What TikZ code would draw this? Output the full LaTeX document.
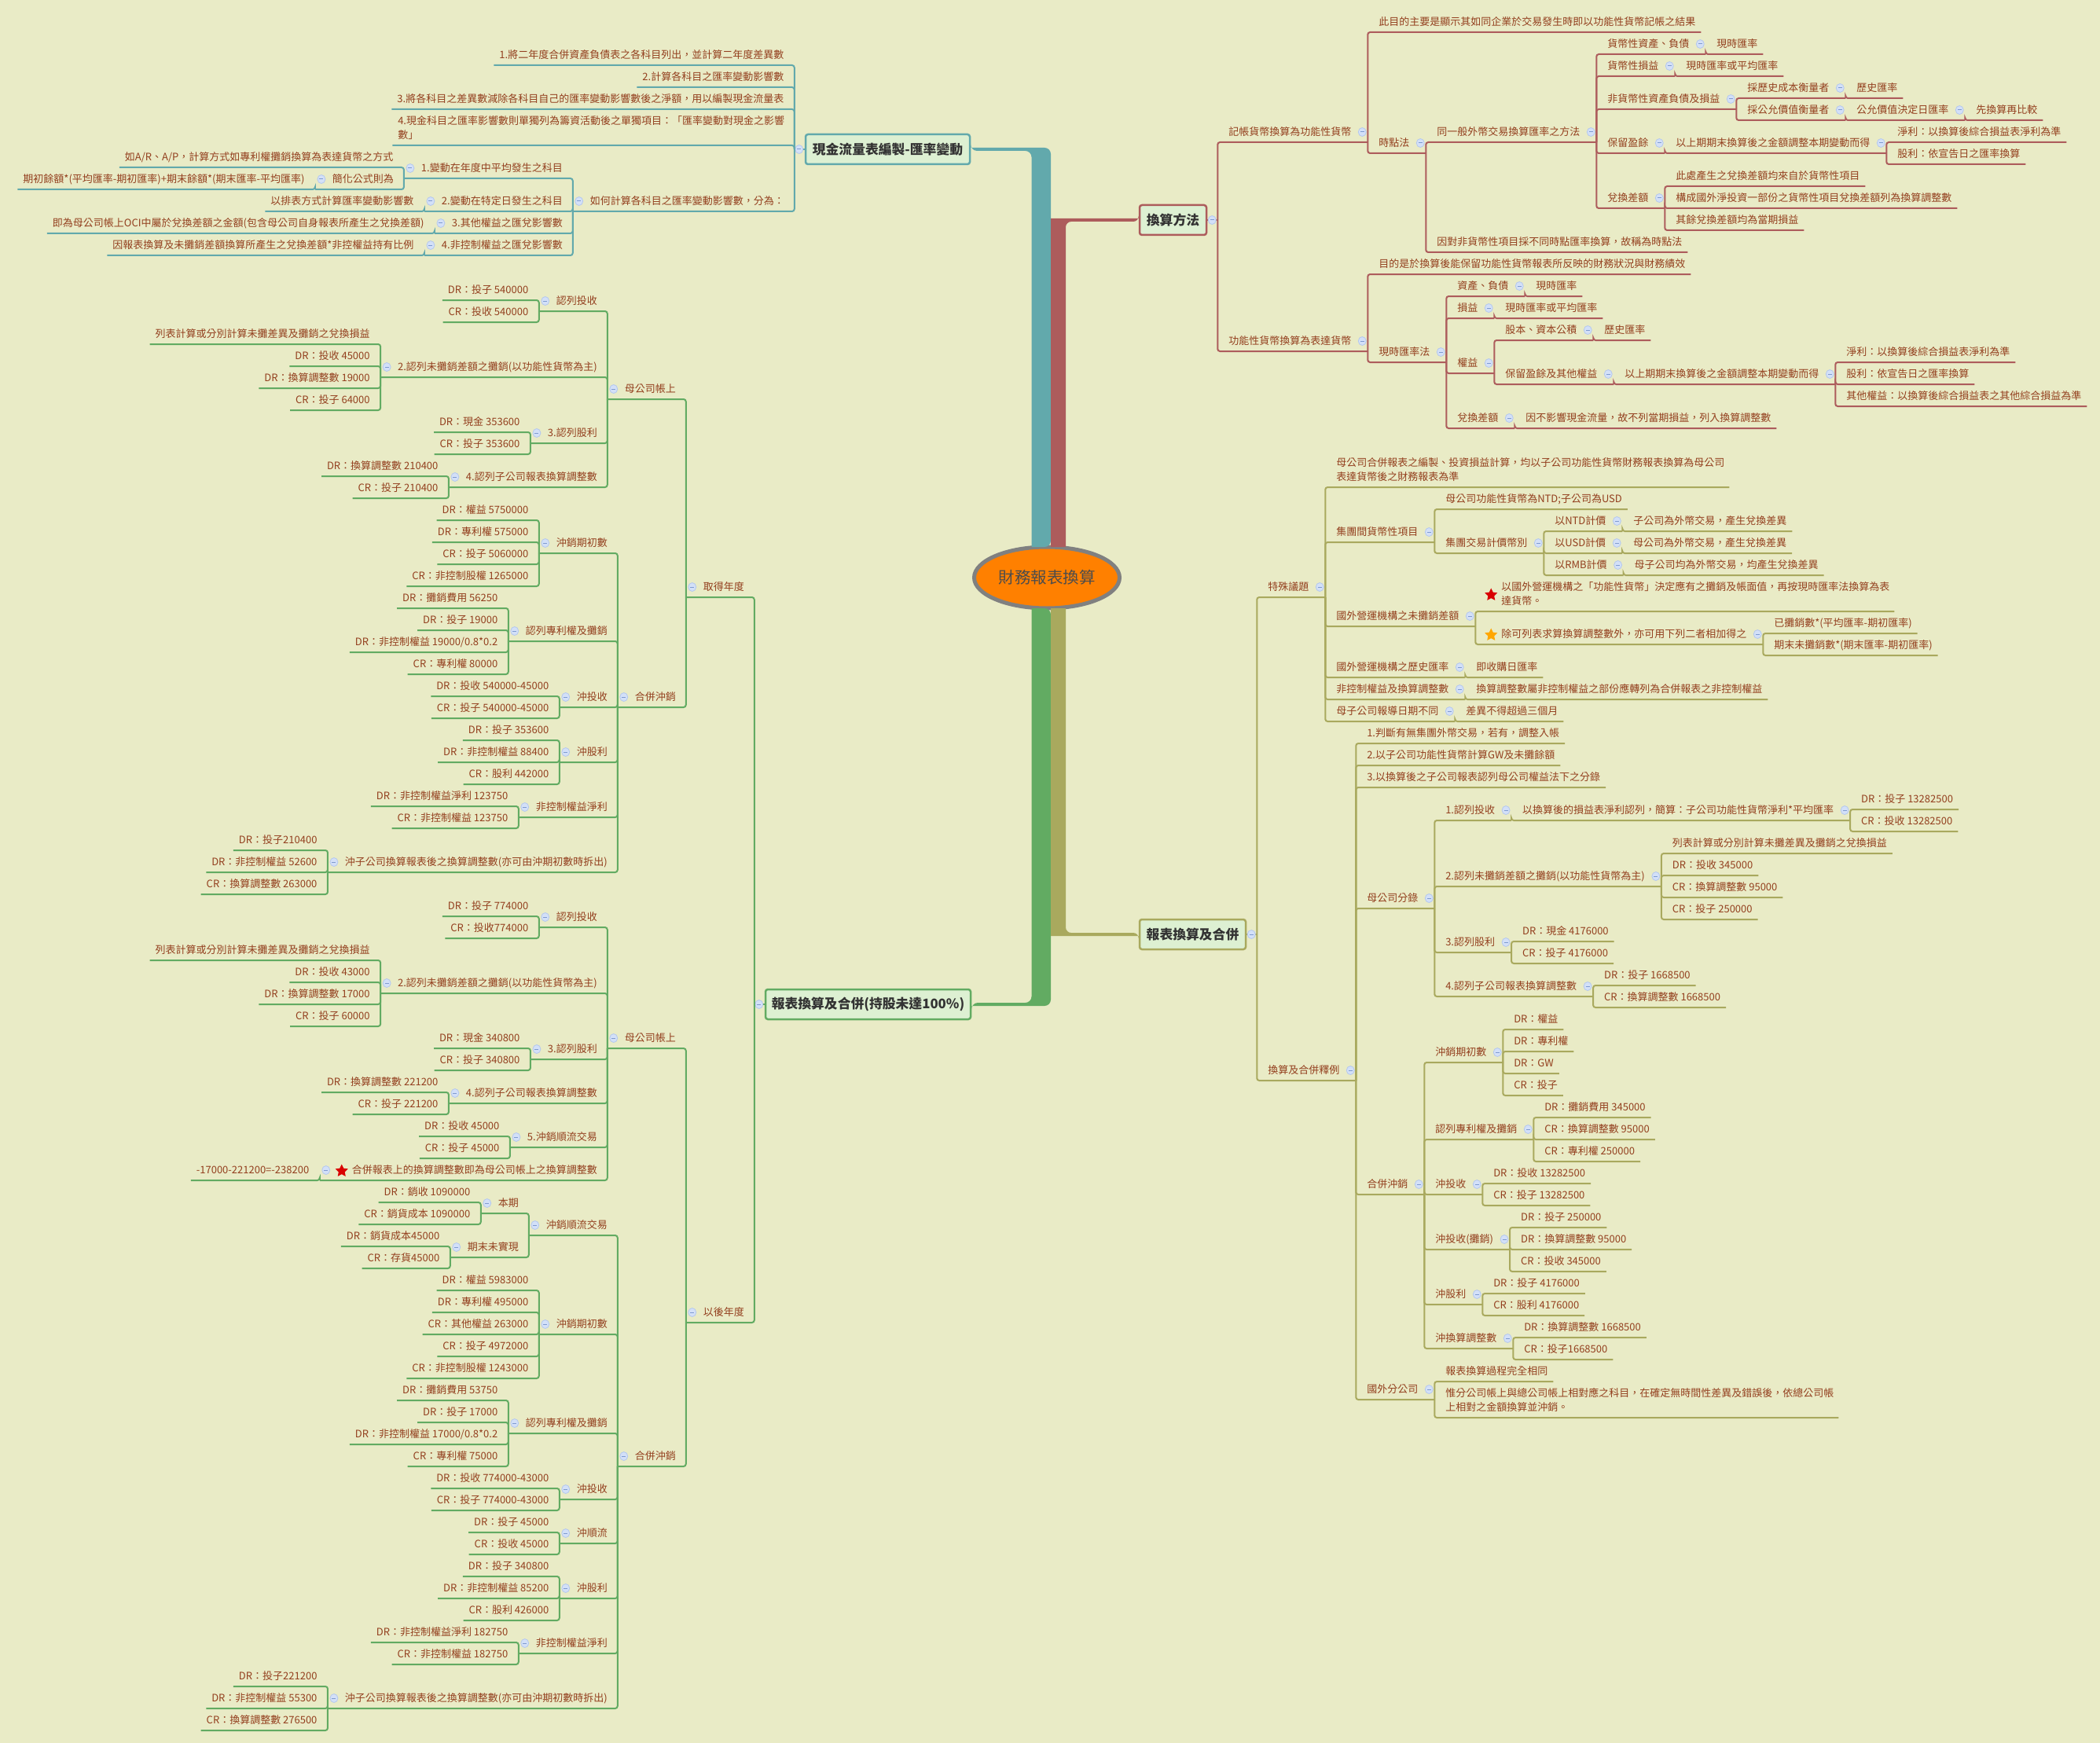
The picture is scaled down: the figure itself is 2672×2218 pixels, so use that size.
\documentclass[tikz,border=0pt]{standalone}
\usepackage{fontspec}
\setmainfont{Noto Sans CJK TC}
\usetikzlibrary{positioning, shapes.geometric}
\definecolor{bgc}{HTML}{E9EBC6}
\definecolor{textc}{HTML}{933F1E}
\definecolor{cteal}{HTML}{62A9AC}
\definecolor{cred}{HTML}{AD5C5C}
\definecolor{colive}{HTML}{A9A95E}
\definecolor{cgreen}{HTML}{62AB62}
\definecolor{topicfill}{HTML}{DDF0D2}
\definecolor{mkfill}{HTML}{D3E0F8}
\definecolor{mkdraw}{HTML}{B4C8EE}
\definecolor{mkdash}{HTML}{7F9BD0}
\newcommand{\nodefont}{\fontsize{13pt}{18pt}\selectfont}
\newcommand{\dashmk}{\rule{5pt}{1pt}}
\tikzset{
  nodebase/.style={font=\nodefont, text=textc, inner sep=0pt, outer sep=0pt, text height=12pt, text depth=8.5pt},
  minusmk/.style={ellipse, anchor=center, draw=mkdraw, fill=mkfill, line width=.8pt, minimum width=10pt, minimum height=11pt,
    inner sep=0pt, text=mkdash, text height=, text depth=, execute at begin node=, execute at end node=},
  lfL/.style={nodebase, anchor=south east, execute at begin node=\hspace*{7pt}, execute at end node=\hspace*{13.5pt}},
  prL/.style={nodebase, anchor=south east, execute at begin node=\hspace*{22pt}, execute at end node=\hspace*{13pt},
    label={[minusmk,xshift=8pt,yshift=13pt]south west:\dashmk}},
  lfR/.style={nodebase, anchor=south west, execute at begin node=\hspace*{14pt}, execute at end node=\hspace*{7pt}},
  prR/.style={nodebase, anchor=south west, execute at begin node=\hspace*{14pt}, execute at end node=\hspace*{21pt},
    label={[minusmk,xshift=-7pt,yshift=13pt]south east:\dashmk}},
  toL/.style={rounded corners=3pt, to path={(\tikztotarget.south west) -- (\tikztostart.south west |- \tikztotarget.south west) -- (\tikztostart.south west)}},
  toR/.style={rounded corners=3pt, to path={(\tikztotarget.south east) -- (\tikztostart.south east |- \tikztotarget.south east) -- (\tikztostart.south east)}},
  brk/.style={inner sep=0pt, outer sep=0pt, minimum size=0pt},
  topic/.style={rectangle, rounded corners=3pt, fill=topicfill, line width=2.5pt, inner sep=0pt, text=black!80,
    font=\fontsize{16.8pt}{20pt}\selectfont\bfseries},
  starmk/.style={star, star points=5, star point ratio=2.05, minimum size=17pt, inner sep=0pt},
  lnT/.style={cteal, line width=2pt},
  lnR/.style={cred, line width=2pt},
  lnO/.style={colive, line width=2pt},
  lnG/.style={cgreen, line width=2pt}
}
\begin{document}
\begin{tikzpicture}[x=1pt, y=-1pt]
  \fill[bgc] (0,0) rectangle (2672,2218);
  \useasboundingbox (0,0) rectangle (2672,2218);

  \node[ellipse, draw=gray, line width=5pt, fill=orange!100!red, minimum width=185pt, minimum height=78pt, inner sep=0pt, outer sep=0pt,
    text=black!70, font=\fontsize{20.5pt}{24pt}\selectfont] (root) at (1332,735) {財務報表換算};
  \node[topic, draw=cteal, minimum width=209pt, minimum height=38pt] (cf) at (1129.5,190) {現金流量表編製-匯率變動};
  \node[topic, draw=cred, minimum width=85pt, minimum height=38pt] (fx) at (1492.5,280) {換算方法};
  \node[topic, draw=colive, minimum width=135pt, minimum height=38pt] (rp) at (1517.5,1189) {報表換算及合併};
  \node[topic, draw=cgreen, minimum width=261pt, minimum height=38pt] (ac) at (1104.5,1278) {報表換算及合併(持股未達100\%)};

  % trunks
  \fill[cteal] ([yshift=2pt]cf.east) [rounded corners=8pt] -- ([xshift=5pt,yshift=2pt]cf.east -| root) -- ([xshift=5pt]root.north) [sharp corners] -- ([xshift=-19.5pt]root.north) [rounded corners=8pt] -- ([xshift=-19.5pt,yshift=-2pt]cf.east -| root) -- ([yshift=-2pt]cf.east) [sharp corners] -- cycle;
  \fill[cgreen] ([yshift=-2pt]ac.east) [rounded corners=8pt] -- ([xshift=5pt,yshift=-2pt]ac.east -| root) -- ([xshift=5pt]root.south) [sharp corners] -- ([xshift=-19.5pt]root.south) [rounded corners=8pt] -- ([xshift=-19.5pt,yshift=2pt]ac.east -| root) -- ([yshift=2pt]ac.east) [sharp corners] -- cycle;
  \fill[cred] ([yshift=2pt]fx.west) -- ([xshift=5pt,yshift=2pt]fx.west -| root) -- ([xshift=5pt]root.north) -- ([xshift=24pt]root.north) [rounded corners=7pt] -- ([xshift=24pt,yshift=-2pt]fx.west -| root) -- ([yshift=-2pt]fx.west) [sharp corners] -- cycle;
  \fill[colive] ([yshift=-2pt]rp.west) -- ([xshift=5pt,yshift=-2pt]rp.west -| root) -- ([xshift=5pt]root.south) -- ([xshift=24pt]root.south) [rounded corners=7pt] -- ([xshift=24pt,yshift=2pt]rp.west -| root) -- ([yshift=2pt]rp.west) [sharp corners] -- cycle;

  \node[brk] (cfb) at ([xshift=-13pt]cf.west) {};
  \node[brk] (fxb) at ([xshift=13pt]fx.east) {};
  \node[brk] (rpb) at ([xshift=13pt]rp.east) {};
  \node[brk] (acb) at ([xshift=-13pt]ac.west) {};
  \draw[lnT] (cfb) -- (cf);
  \draw[lnR] (fxb) -- (fx);
  \draw[lnO] (rpb) -- (rp);
  \draw[lnG] (acb) -- (ac);
  \node[minusmk] (cfm) at ([xshift=-7pt]cf.west) {\dashmk};
  \node[minusmk] (fxm) at ([xshift=6pt]fx.east) {\dashmk};
  \node[minusmk] (rpm) at ([xshift=6pt]rp.east) {\dashmk};
  \node[minusmk] (acm) at ([xshift=-7pt]ac.west) {\dashmk};

  % cash flow
  \node[lfL] (cf1) at (cfb.south west |- 0,83) {1.將二年度合併資產負債表之各科目列出，並計算二年度差異數};
  \node[lfL] (cf2) at (cfb.south west |- 0,111) {2.計算各科目之匯率變動影響數};
  \node[lfL] (cf3) at (cfb.south west |- 0,139) {3.將各科目之差異數減除各科目自己的匯率變動影響數後之淨額，用以編製現金流量表};
  \node[lfL, text height=30pt] (cf4) at (cfb.south west |- 0,185) {\parbox[b]{491pt}{\raggedright 4.現金科目之匯率影響數則單獨列為籌資活動後之單獨項目：「匯率變動對現金之影響\\數」}};
  \node[prL] (cf5) at (cfb.south west |- 0,269) {如何計算各科目之匯率變動影響數，分為：};
  \node[prL] (cf51) at (cf5.south west |- 0,227) {1.變動在年度中平均發生之科目};
  \node[lfL] (cf511) at (cf51.south west |- 0,213) {如A/R、A/P，計算方式如專利權攤銷換算為表達貨幣之方式};
  \node[prL] (cf512) at (cf51.south west |- 0,241) {簡化公式則為};
  \node[lfL] (cf5121) at (cf512.south west |- 0,241) {期初餘額*(平均匯率-期初匯率)+期末餘額*(期末匯率-平均匯率)};
  \node[prL] (cf52) at (cf5.south west |- 0,269) {2.變動在特定日發生之科目};
  \node[lfL] (cf521) at (cf52.south west |- 0,269) {以排表方式計算匯率變動影響數};
  \node[prL] (cf53) at (cf5.south west |- 0,297) {3.其他權益之匯兌影響數};
  \node[lfL] (cf531) at (cf53.south west |- 0,297) {即為母公司帳上OCI中屬於兌換差額之金額(包含母公司自身報表所產生之兌換差額)};
  \node[prL] (cf54) at (cf5.south west |- 0,325) {4.非控制權益之匯兌影響數};
  \node[lfL] (cf541) at (cf54.south west |- 0,325) {因報表換算及未攤銷差額換算所產生之兌換差額*非控權益持有比例};
  \draw[lnT, toL] (cfb) edge (cf1) edge (cf2) edge (cf3) edge (cf4) edge (cf5)
        (cf5) edge (cf51) edge (cf52) edge (cf53) edge (cf54)
        (cf51) edge (cf511) edge (cf512) (cf512) edge (cf5121)
        (cf52) edge (cf521) (cf53) edge (cf531) (cf54) edge (cf541);

  % acquisition year
  \node[prL] (a1) at (acb.south west |- 0,760) {取得年度};
  \node[prL] (a1p) at (a1.south west |- 0,508) {母公司帳上};
  \node[prL] (a1p1) at (a1p.south west |- 0,396) {認列投收};
  \node[lfL] (a1p11) at (a1p1.south west |- 0,382) {DR：投子 540000};
  \node[lfL] (a1p12) at (a1p1.south west |- 0,410) {CR：投收 540000};
  \node[prL] (a1p2) at (a1p.south west |- 0,480) {2.認列未攤銷差額之攤銷(以功能性貨幣為主)};
  \node[lfL] (a1p21) at (a1p2.south west |- 0,438) {列表計算或分別計算未攤差異及攤銷之兌換損益};
  \node[lfL] (a1p22) at (a1p2.south west |- 0,466) {DR：投收 45000};
  \node[lfL] (a1p23) at (a1p2.south west |- 0,494) {DR：換算調整數 19000};
  \node[lfL] (a1p24) at (a1p2.south west |- 0,522) {CR：投子 64000};
  \node[prL] (a1p3) at (a1p.south west |- 0,564) {3.認列股利};
  \node[lfL] (a1p31) at (a1p3.south west |- 0,550) {DR：現金 353600};
  \node[lfL] (a1p32) at (a1p3.south west |- 0,578) {CR：投子 353600};
  \node[prL] (a1p4) at (a1p.south west |- 0,620) {4.認列子公司報表換算調整數};
  \node[lfL] (a1p41) at (a1p4.south west |- 0,606) {DR：換算調整數 210400};
  \node[lfL] (a1p42) at (a1p4.south west |- 0,634) {CR：投子 210400};
  \node[prL] (a1c) at (a1.south west |- 0,900) {合併沖銷};
  \node[prL] (a1c1) at (a1c.south west |- 0,704) {沖銷期初數};
  \node[lfL] (a1c11) at (a1c1.south west |- 0,662) {DR：權益 5750000};
  \node[lfL] (a1c12) at (a1c1.south west |- 0,690) {DR：專利權 575000};
  \node[lfL] (a1c13) at (a1c1.south west |- 0,718) {CR：投子 5060000};
  \node[lfL] (a1c14) at (a1c1.south west |- 0,746) {CR：非控制股權 1265000};
  \node[prL] (a1c2) at (a1c.south west |- 0,816) {認列專利權及攤銷};
  \node[lfL] (a1c21) at (a1c2.south west |- 0,774) {DR：攤銷費用 56250};
  \node[lfL] (a1c22) at (a1c2.south west |- 0,802) {DR：投子 19000};
  \node[lfL] (a1c23) at (a1c2.south west |- 0,830) {DR：非控制權益 19000/0.8*0.2};
  \node[lfL] (a1c24) at (a1c2.south west |- 0,858) {CR：專利權 80000};
  \node[prL] (a1c3) at (a1c.south west |- 0,900) {沖投收};
  \node[lfL] (a1c31) at (a1c3.south west |- 0,886) {DR：投收 540000-45000};
  \node[lfL] (a1c32) at (a1c3.south west |- 0,914) {CR：投子 540000-45000};
  \node[prL] (a1c4) at (a1c.south west |- 0,970) {沖股利};
  \node[lfL] (a1c41) at (a1c4.south west |- 0,942) {DR：投子 353600};
  \node[lfL] (a1c42) at (a1c4.south west |- 0,970) {DR：非控制權益 88400};
  \node[lfL] (a1c43) at (a1c4.south west |- 0,998) {CR：股利 442000};
  \node[prL] (a1c5) at (a1c.south west |- 0,1040) {非控制權益淨利};
  \node[lfL] (a1c51) at (a1c5.south west |- 0,1026) {DR：非控制權益淨利 123750};
  \node[lfL] (a1c52) at (a1c5.south west |- 0,1054) {CR：非控制權益 123750};
  \node[prL] (a1c6) at (a1c.south west |- 0,1110) {沖子公司換算報表後之換算調整數(亦可由沖期初數時拆出)};
  \node[lfL] (a1c61) at (a1c6.south west |- 0,1082) {DR：投子210400};
  \node[lfL] (a1c62) at (a1c6.south west |- 0,1110) {DR：非控制權益 52600};
  \node[lfL] (a1c63) at (a1c6.south west |- 0,1138) {CR：換算調整數 263000};
  \draw[lnG, toL] (acb) edge (a1) (a1) edge (a1p) edge (a1c)
        (a1p) edge (a1p1) edge (a1p2) edge (a1p3) edge (a1p4)
        (a1p1) edge (a1p11) edge (a1p12)
        (a1p2) edge (a1p21) edge (a1p22) edge (a1p23) edge (a1p24)
        (a1p3) edge (a1p31) edge (a1p32)
        (a1p4) edge (a1p41) edge (a1p42)
        (a1c) edge (a1c1) edge (a1c2) edge (a1c3) edge (a1c4) edge (a1c5) edge (a1c6)
        (a1c1) edge (a1c11) edge (a1c12) edge (a1c13) edge (a1c14)
        (a1c2) edge (a1c21) edge (a1c22) edge (a1c23) edge (a1c24)
        (a1c3) edge (a1c31) edge (a1c32)
        (a1c4) edge (a1c41) edge (a1c42) edge (a1c43)
        (a1c5) edge (a1c51) edge (a1c52)
        (a1c6) edge (a1c61) edge (a1c62) edge (a1c63);

  % later years
  \node[prL] (a2) at (acb.south west |- 0,1683) {以後年度};
  \node[prL] (a2p) at (a2.south west |- 0,1334) {母公司帳上};
  \node[prL] (a2p1) at (a2p.south west |- 0,1180) {認列投收};
  \node[lfL] (a2p11) at (a2p1.south west |- 0,1166) {DR：投子 774000};
  \node[lfL] (a2p12) at (a2p1.south west |- 0,1194) {CR：投收774000};
  \node[prL] (a2p2) at (a2p.south west |- 0,1264) {2.認列未攤銷差額之攤銷(以功能性貨幣為主)};
  \node[lfL] (a2p21) at (a2p2.south west |- 0,1222) {列表計算或分別計算未攤差異及攤銷之兌換損益};
  \node[lfL] (a2p22) at (a2p2.south west |- 0,1250) {DR：投收 43000};
  \node[lfL] (a2p23) at (a2p2.south west |- 0,1278) {DR：換算調整數 17000};
  \node[lfL] (a2p24) at (a2p2.south west |- 0,1306) {CR：投子 60000};
  \node[prL] (a2p3) at (a2p.south west |- 0,1348) {3.認列股利};
  \node[lfL] (a2p31) at (a2p3.south west |- 0,1334) {DR：現金 340800};
  \node[lfL] (a2p32) at (a2p3.south west |- 0,1362) {CR：投子 340800};
  \node[prL] (a2p4) at (a2p.south west |- 0,1404) {4.認列子公司報表換算調整數};
  \node[lfL] (a2p41) at (a2p4.south west |- 0,1390) {DR：換算調整數 221200};
  \node[lfL] (a2p42) at (a2p4.south west |- 0,1418) {CR：投子 221200};
  \node[prL] (a2p5) at (a2p.south west |- 0,1460) {5.沖銷順流交易};
  \node[lfL] (a2p51) at (a2p5.south west |- 0,1446) {DR：投收 45000};
  \node[lfL] (a2p52) at (a2p5.south west |- 0,1474) {CR：投子 45000};
  \node[prL] (a2p6) at (a2p.south west |- 0,1502) {\hspace*{19pt}合併報表上的換算調整數即為母公司帳上之換算調整數};
  \node[starmk, fill=red!85!black] (a2ps) at ([xshift=28pt,yshift=12pt]a2p6.south west) {};
  \node[lfL] (a2p61) at (a2p6.south west |- 0,1502) {-17000-221200=-238200};
  \node[prL] (a2c) at (a2.south west |- 0,1866) {合併沖銷};
  \node[prL] (a2c1) at (a2c.south west |- 0,1572) {沖銷順流交易};
  \node[prL] (a2c11) at (a2c1.south west |- 0,1544) {本期};
  \node[lfL] (a2c111) at (a2c11.south west |- 0,1530) {DR：銷收 1090000};
  \node[lfL] (a2c112) at (a2c11.south west |- 0,1558) {CR：銷貨成本 1090000};
  \node[prL] (a2c12) at (a2c1.south west |- 0,1600) {期末未實現};
  \node[lfL] (a2c121) at (a2c12.south west |- 0,1586) {DR：銷貨成本45000};
  \node[lfL] (a2c122) at (a2c12.south west |- 0,1614) {CR：存貨45000};
  \node[prL] (a2c2) at (a2c.south west |- 0,1698) {沖銷期初數};
  \node[lfL] (a2c21) at (a2c2.south west |- 0,1642) {DR：權益 5983000};
  \node[lfL] (a2c22) at (a2c2.south west |- 0,1670) {DR：專利權 495000};
  \node[lfL] (a2c23) at (a2c2.south west |- 0,1698) {CR：其他權益 263000};
  \node[lfL] (a2c24) at (a2c2.south west |- 0,1726) {CR：投子 4972000};
  \node[lfL] (a2c25) at (a2c2.south west |- 0,1754) {CR：非控制股權 1243000};
  \node[prL] (a2c3) at (a2c.south west |- 0,1824) {認列專利權及攤銷};
  \node[lfL] (a2c31) at (a2c3.south west |- 0,1782) {DR：攤銷費用 53750};
  \node[lfL] (a2c32) at (a2c3.south west |- 0,1810) {DR：投子 17000};
  \node[lfL] (a2c33) at (a2c3.south west |- 0,1838) {DR：非控制權益 17000/0.8*0.2};
  \node[lfL] (a2c34) at (a2c3.south west |- 0,1866) {CR：專利權 75000};
  \node[prL] (a2c4) at (a2c.south west |- 0,1908) {沖投收};
  \node[lfL] (a2c41) at (a2c4.south west |- 0,1894) {DR：投收 774000-43000};
  \node[lfL] (a2c42) at (a2c4.south west |- 0,1922) {CR：投子 774000-43000};
  \node[prL] (a2c5) at (a2c.south west |- 0,1964) {沖順流};
  \node[lfL] (a2c51) at (a2c5.south west |- 0,1950) {DR：投子 45000};
  \node[lfL] (a2c52) at (a2c5.south west |- 0,1978) {CR：投收 45000};
  \node[prL] (a2c6) at (a2c.south west |- 0,2034) {沖股利};
  \node[lfL] (a2c61) at (a2c6.south west |- 0,2006) {DR：投子 340800};
  \node[lfL] (a2c62) at (a2c6.south west |- 0,2034) {DR：非控制權益 85200};
  \node[lfL] (a2c63) at (a2c6.south west |- 0,2062) {CR：股利 426000};
  \node[prL] (a2c7) at (a2c.south west |- 0,2104) {非控制權益淨利};
  \node[lfL] (a2c71) at (a2c7.south west |- 0,2090) {DR：非控制權益淨利 182750};
  \node[lfL] (a2c72) at (a2c7.south west |- 0,2118) {CR：非控制權益 182750};
  \node[prL] (a2c8) at (a2c.south west |- 0,2174) {沖子公司換算報表後之換算調整數(亦可由沖期初數時拆出)};
  \node[lfL] (a2c81) at (a2c8.south west |- 0,2146) {DR：投子221200};
  \node[lfL] (a2c82) at (a2c8.south west |- 0,2174) {DR：非控制權益 55300};
  \node[lfL] (a2c83) at (a2c8.south west |- 0,2202) {CR：換算調整數 276500};
  \draw[lnG, toL] (acb) edge (a2) (a2) edge (a2p) edge (a2c)
        (a2p) edge (a2p1) edge (a2p2) edge (a2p3) edge (a2p4) edge (a2p5) edge (a2p6)
        (a2p1) edge (a2p11) edge (a2p12)
        (a2p2) edge (a2p21) edge (a2p22) edge (a2p23) edge (a2p24)
        (a2p3) edge (a2p31) edge (a2p32)
        (a2p4) edge (a2p41) edge (a2p42)
        (a2p5) edge (a2p51) edge (a2p52)
        (a2p6) edge (a2p61)
        (a2c) edge (a2c1) edge (a2c2) edge (a2c3) edge (a2c4) edge (a2c5) edge (a2c6) edge (a2c7) edge (a2c8)
        (a2c1) edge (a2c11) edge (a2c12)
        (a2c11) edge (a2c111) edge (a2c112)
        (a2c12) edge (a2c121) edge (a2c122)
        (a2c2) edge (a2c21) edge (a2c22) edge (a2c23) edge (a2c24) edge (a2c25)
        (a2c3) edge (a2c31) edge (a2c32) edge (a2c33) edge (a2c34)
        (a2c4) edge (a2c41) edge (a2c42)
        (a2c5) edge (a2c51) edge (a2c52)
        (a2c6) edge (a2c61) edge (a2c62) edge (a2c63)
        (a2c7) edge (a2c71) edge (a2c72)
        (a2c8) edge (a2c81) edge (a2c82) edge (a2c83);

  % translation methods
  \node[prR] (fa) at (fxb.south east |- 0,181) {記帳貨幣換算為功能性貨幣};
  \node[lfR] (fa1) at (fa.south east |- 0,41) {此目的主要是顯示其如同企業於交易發生時即以功能性貨幣記帳之結果};
  \node[prR] (fa2) at (fa.south east |- 0,195) {時點法};
  \node[prR] (fa21) at (fa2.south east |- 0,181) {同一般外幣交易換算匯率之方法};
  \node[prR] (fa211) at (fa21.south east |- 0,69) {貨幣性資產、負債};
  \node[lfR] (fa2111) at (fa211.south east |- 0,69) {現時匯率};
  \node[prR] (fa212) at (fa21.south east |- 0,97) {貨幣性損益};
  \node[lfR] (fa2121) at (fa212.south east |- 0,97) {現時匯率或平均匯率};
  \node[prR] (fa213) at (fa21.south east |- 0,139) {非貨幣性資產負債及損益};
  \node[prR] (fa2131) at (fa213.south east |- 0,125) {採歷史成本衡量者};
  \node[lfR] (fa21311) at (fa2131.south east |- 0,125) {歷史匯率};
  \node[prR] (fa2132) at (fa213.south east |- 0,153) {採公允價值衡量者};
  \node[prR] (fa21321) at (fa2132.south east |- 0,153) {公允價值決定日匯率};
  \node[lfR] (fa213211) at (fa21321.south east |- 0,153) {先換算再比較};
  \node[prR] (fa214) at (fa21.south east |- 0,195) {保留盈餘};
  \node[prR] (fa2141) at (fa214.south east |- 0,195) {以上期期末換算後之金額調整本期變動而得};
  \node[lfR] (fa21411) at (fa2141.south east |- 0,181) {淨利：以換算後綜合損益表淨利為準};
  \node[lfR] (fa21412) at (fa2141.south east |- 0,209) {股利：依宣告日之匯率換算};
  \node[prR] (fa215) at (fa21.south east |- 0,265) {兌換差額};
  \node[lfR] (fa2151) at (fa215.south east |- 0,237) {此處產生之兌換差額均來自於貨幣性項目};
  \node[lfR] (fa2152) at (fa215.south east |- 0,265) {構成國外淨投資一部份之貨幣性項目兌換差額列為換算調整數};
  \node[lfR] (fa2153) at (fa215.south east |- 0,293) {其餘兌換差額均為當期損益};
  \node[lfR] (fa22) at (fa2.south east |- 0,321) {因對非貨幣性項目採不同時點匯率換算，故稱為時點法};
  \node[prR] (fb) at (fxb.south east |- 0,447) {功能性貨幣換算為表達貨幣};
  \node[lfR] (fb1) at (fb.south east |- 0,349) {目的是於換算後能保留功能性貨幣報表所反映的財務狀況與財務績效};
  \node[prR] (fb2) at (fb.south east |- 0,461) {現時匯率法};
  \node[prR] (fb21) at (fb2.south east |- 0,377) {資產、負債};
  \node[lfR] (fb211) at (fb21.south east |- 0,377) {現時匯率};
  \node[prR] (fb22) at (fb2.south east |- 0,405) {損益};
  \node[lfR] (fb221) at (fb22.south east |- 0,405) {現時匯率或平均匯率};
  \node[prR] (fb23) at (fb2.south east |- 0,475) {權益};
  \node[prR] (fb231) at (fb23.south east |- 0,433) {股本、資本公積};
  \node[lfR] (fb2311) at (fb231.south east |- 0,433) {歷史匯率};
  \node[prR] (fb232) at (fb23.south east |- 0,489) {保留盈餘及其他權益};
  \node[prR] (fb2321) at (fb232.south east |- 0,489) {以上期期末換算後之金額調整本期變動而得};
  \node[lfR] (fb23211) at (fb2321.south east |- 0,461) {淨利：以換算後綜合損益表淨利為準};
  \node[lfR] (fb23212) at (fb2321.south east |- 0,489) {股利：依宣告日之匯率換算};
  \node[lfR] (fb23213) at (fb2321.south east |- 0,517) {其他權益：以換算後綜合損益表之其他綜合損益為準};
  \node[prR] (fb24) at (fb2.south east |- 0,545) {兌換差額};
  \node[lfR] (fb241) at (fb24.south east |- 0,545) {因不影響現金流量，故不列當期損益，列入換算調整數};
  \draw[lnR, toR] (fxb) edge (fa) edge (fb)
        (fa) edge (fa1) edge (fa2) (fa2) edge (fa21) edge (fa22)
        (fa21) edge (fa211) edge (fa212) edge (fa213) edge (fa214) edge (fa215)
        (fa211) edge (fa2111) (fa212) edge (fa2121)
        (fa213) edge (fa2131) edge (fa2132) (fa2131) edge (fa21311)
        (fa2132) edge (fa21321) (fa21321) edge (fa213211)
        (fa214) edge (fa2141) (fa2141) edge (fa21411) edge (fa21412)
        (fa215) edge (fa2151) edge (fa2152) edge (fa2153)
        (fb) edge (fb1) edge (fb2) (fb2) edge (fb21) edge (fb22) edge (fb23) edge (fb24)
        (fb21) edge (fb211) (fb22) edge (fb221)
        (fb23) edge (fb231) edge (fb232) (fb231) edge (fb2311)
        (fb232) edge (fb2321) (fb2321) edge (fb23211) edge (fb23212) edge (fb23213)
        (fb24) edge (fb241);

  % special issues
  \node[prR] (rs) at (rpb.south east |- 0,760) {特殊議題};
  \node[lfR, text height=30pt] (rs1) at (rs.south east |- 0,620) {\parbox[b]{493pt}{\raggedright 母公司合併報表之編製、投資損益計算，均以子公司功能性貨幣財務報表換算為母公司\\表達貨幣後之財務報表為準}};
  \node[prR] (rs2) at (rs.south east |- 0,690) {集團間貨幣性項目};
  \node[lfR] (rs21) at (rs2.south east |- 0,648) {母公司功能性貨幣為NTD;子公司為USD};
  \node[prR] (rs22) at (rs2.south east |- 0,704) {集團交易計價幣別};
  \node[prR] (rs221) at (rs22.south east |- 0,676) {以NTD計價};
  \node[lfR] (rs2211) at (rs221.south east |- 0,676) {子公司為外幣交易，產生兌換差異};
  \node[prR] (rs222) at (rs22.south east |- 0,704) {以USD計價};
  \node[lfR] (rs2221) at (rs222.south east |- 0,704) {母公司為外幣交易，產生兌換差異};
  \node[prR] (rs223) at (rs22.south east |- 0,732) {以RMB計價};
  \node[lfR] (rs2231) at (rs223.south east |- 0,732) {母子公司均為外幣交易，均產生兌換差異};
  \node[prR] (rs3) at (rs.south east |- 0,797) {國外營運機構之未攤銷差額};
  \node[lfR, text height=30pt] (rs31) at (rs3.south east |- 0,778) {\hspace*{19pt}\parbox[b]{493pt}{\raggedright 以國外營運機構之「功能性貨幣」決定應有之攤銷及帳面值，再按現時匯率法換算為表\\達貨幣。}};
  \node[starmk, fill=red!85!black] (rs31s) at ([xshift=20pt,yshift=21pt]rs31.south west) {};
  \node[prR] (rs32) at (rs3.south east |- 0,820) {\hspace*{19pt}除可列表求算換算調整數外，亦可用下列二者相加得之};
  \node[starmk, fill=orange!70!yellow] (rs32s) at ([xshift=20pt,yshift=12pt]rs32.south west) {};
  \node[lfR] (rs321) at (rs32.south east |- 0,806) {已攤銷數*(平均匯率-期初匯率)};
  \node[lfR] (rs322) at (rs32.south east |- 0,834) {期末未攤銷數*(期末匯率-期初匯率)};
  \node[prR] (rs4) at (rs.south east |- 0,862) {國外營運機構之歷史匯率};
  \node[lfR] (rs41) at (rs4.south east |- 0,862) {即收購日匯率};
  \node[prR] (rs5) at (rs.south east |- 0,890) {非控制權益及換算調整數};
  \node[lfR] (rs51) at (rs5.south east |- 0,890) {換算調整數屬非控制權益之部份應轉列為合併報表之非控制權益};
  \node[prR] (rs6) at (rs.south east |- 0,918) {母子公司報導日期不同};
  \node[lfR] (rs61) at (rs6.south east |- 0,918) {差異不得超過三個月};
  \draw[lnO, toR] (rpb) edge (rs)
        (rs) edge (rs1) edge (rs2) edge (rs3) edge (rs4) edge (rs5) edge (rs6)
        (rs2) edge (rs21) edge (rs22) (rs22) edge (rs221) edge (rs222) edge (rs223)
        (rs221) edge (rs2211) (rs222) edge (rs2221) (rs223) edge (rs2231)
        (rs3) edge (rs31) edge (rs32) (rs32) edge (rs321) edge (rs322)
        (rs4) edge (rs41) (rs5) edge (rs51) (rs6) edge (rs61);

  % worked example
  \node[prR] (re) at (rpb.south east |- 0,1375) {換算及合併釋例};
  \node[lfR] (re1) at (re.south east |- 0,946) {1.判斷有無集團外幣交易，若有，調整入帳};
  \node[lfR] (re2) at (re.south east |- 0,974) {2.以子公司功能性貨幣計算GW及未攤餘額};
  \node[lfR] (re3) at (re.south east |- 0,1002) {3.以換算後之子公司報表認列母公司權益法下之分錄};
  \node[prR] (re4) at (re.south east |- 0,1156) {母公司分錄};
  \node[prR] (re41) at (re4.south east |- 0,1044) {1.認列投收};
  \node[prR] (re411) at (re41.south east |- 0,1044) {以換算後的損益表淨利認列，簡算：子公司功能性貨幣淨利*平均匯率};
  \node[lfR] (re4111) at (re411.south east |- 0,1030) {DR：投子 13282500};
  \node[lfR] (re4112) at (re411.south east |- 0,1058) {CR：投收 13282500};
  \node[prR] (re42) at (re4.south east |- 0,1128) {2.認列未攤銷差額之攤銷(以功能性貨幣為主)};
  \node[lfR] (re421) at (re42.south east |- 0,1086) {列表計算或分別計算未攤差異及攤銷之兌換損益};
  \node[lfR] (re422) at (re42.south east |- 0,1114) {DR：投收 345000};
  \node[lfR] (re423) at (re42.south east |- 0,1142) {CR：換算調整數 95000};
  \node[lfR] (re424) at (re42.south east |- 0,1170) {CR：投子 250000};
  \node[prR] (re43) at (re4.south east |- 0,1212) {3.認列股利};
  \node[lfR] (re431) at (re43.south east |- 0,1198) {DR：現金 4176000};
  \node[lfR] (re432) at (re43.south east |- 0,1226) {CR：投子 4176000};
  \node[prR] (re44) at (re4.south east |- 0,1268) {4.認列子公司報表換算調整數};
  \node[lfR] (re441) at (re44.south east |- 0,1254) {DR：投子 1668500};
  \node[lfR] (re442) at (re44.south east |- 0,1282) {CR：換算調整數 1668500};
  \node[prR] (re5) at (re.south east |- 0,1520) {合併沖銷};
  \node[prR] (re51) at (re5.south east |- 0,1352) {沖銷期初數};
  \node[lfR] (re511) at (re51.south east |- 0,1310) {DR：權益};
  \node[lfR] (re512) at (re51.south east |- 0,1338) {DR：專利權};
  \node[lfR] (re513) at (re51.south east |- 0,1366) {DR：GW};
  \node[lfR] (re514) at (re51.south east |- 0,1394) {CR：投子};
  \node[prR] (re52) at (re5.south east |- 0,1450) {認列專利權及攤銷};
  \node[lfR] (re521) at (re52.south east |- 0,1422) {DR：攤銷費用 345000};
  \node[lfR] (re522) at (re52.south east |- 0,1450) {CR：換算調整數 95000};
  \node[lfR] (re523) at (re52.south east |- 0,1478) {CR：專利權 250000};
  \node[prR] (re53) at (re5.south east |- 0,1520) {沖投收};
  \node[lfR] (re531) at (re53.south east |- 0,1506) {DR：投收 13282500};
  \node[lfR] (re532) at (re53.south east |- 0,1534) {CR：投子 13282500};
  \node[prR] (re54) at (re5.south east |- 0,1590) {沖投收(攤銷)};
  \node[lfR] (re541) at (re54.south east |- 0,1562) {DR：投子 250000};
  \node[lfR] (re542) at (re54.south east |- 0,1590) {DR：換算調整數 95000};
  \node[lfR] (re543) at (re54.south east |- 0,1618) {CR：投收 345000};
  \node[prR] (re55) at (re5.south east |- 0,1660) {沖股利};
  \node[lfR] (re551) at (re55.south east |- 0,1646) {DR：投子 4176000};
  \node[lfR] (re552) at (re55.south east |- 0,1674) {CR：股利 4176000};
  \node[prR] (re56) at (re5.south east |- 0,1716) {沖換算調整數};
  \node[lfR] (re561) at (re56.south east |- 0,1702) {DR：換算調整數 1668500};
  \node[lfR] (re562) at (re56.south east |- 0,1730) {CR：投子1668500};
  \node[prR] (re6) at (re.south east |- 0,1781) {國外分公司};
  \node[lfR] (re61) at (re6.south east |- 0,1758) {報表換算過程完全相同};
  \node[lfR, text height=30pt] (re62) at (re6.south east |- 0,1804) {\parbox[b]{493pt}{\raggedright 惟分公司帳上與總公司帳上相對應之科目，在確定無時間性差異及錯誤後，依總公司帳\\上相對之金額換算並沖銷。}};
  \draw[lnO, toR] (rpb) edge (re)
        (re) edge (re1) edge (re2) edge (re3) edge (re4) edge (re5) edge (re6)
        (re4) edge (re41) edge (re42) edge (re43) edge (re44)
        (re41) edge (re411) (re411) edge (re4111) edge (re4112)
        (re42) edge (re421) edge (re422) edge (re423) edge (re424)
        (re43) edge (re431) edge (re432)
        (re44) edge (re441) edge (re442)
        (re5) edge (re51) edge (re52) edge (re53) edge (re54) edge (re55) edge (re56)
        (re51) edge (re511) edge (re512) edge (re513) edge (re514)
        (re52) edge (re521) edge (re522) edge (re523)
        (re53) edge (re531) edge (re532)
        (re54) edge (re541) edge (re542) edge (re543)
        (re55) edge (re551) edge (re552)
        (re56) edge (re561) edge (re562)
        (re6) edge (re61) edge (re62);
\end{tikzpicture}
\end{document}
